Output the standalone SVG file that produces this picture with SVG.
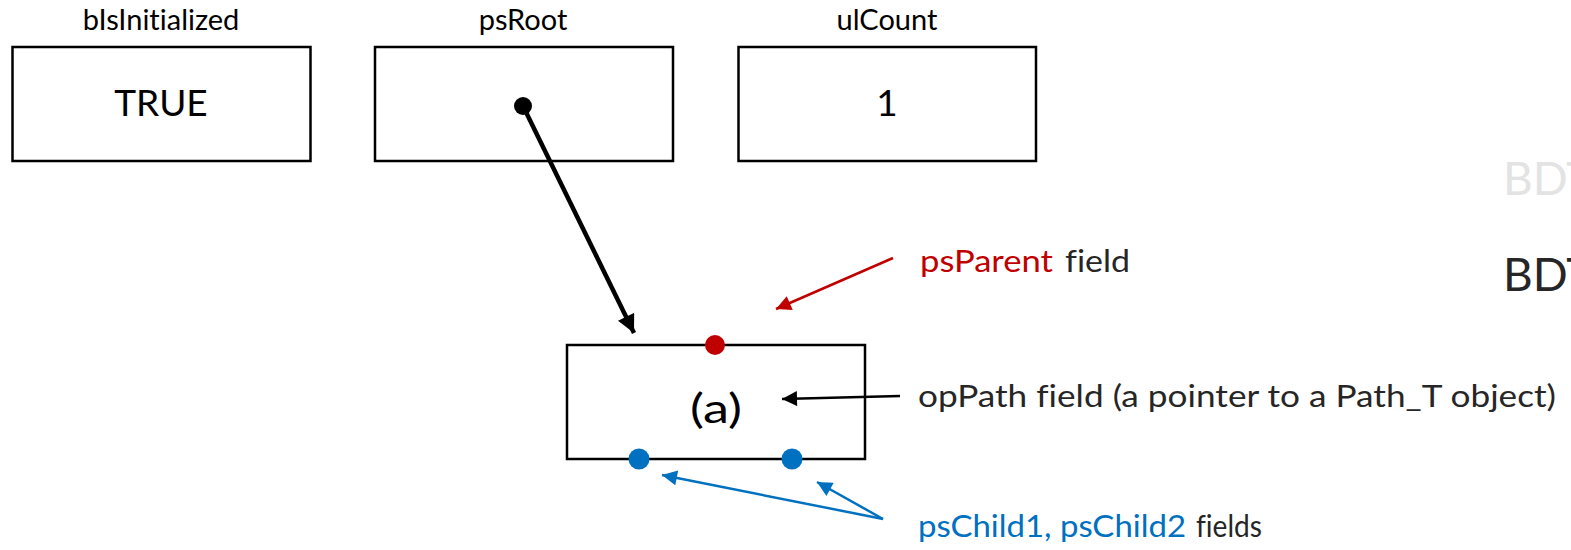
<svg xmlns="http://www.w3.org/2000/svg" width="1571" height="550" viewBox="0 0 1571 550">
  <style>
    text { font-family: Lato, "Open Sans", "Liberation Sans", sans-serif; font-variant-ligatures: none; }
    .box { fill: #fff; stroke: #000; stroke-width: 2.5; }
    .lbl { font-size: 29px; fill: #000; text-anchor: middle; }
    .val { font-size: 37px; fill: #000; text-anchor: middle; }
    .ann { font-size: 31px; fill: #262626; }
    .red { fill: #C00000; }
    .blue { fill: #0070C0; }
    .bdt { font-size: 46px; }
  </style>
  <defs>
    <marker id="ahBlack" viewBox="0 0 10 10" refX="10" refY="5" markerWidth="4.2" markerHeight="4" markerUnits="strokeWidth" orient="auto">
      <path d="M0,0 L10,5 L0,10 Z" fill="#000"/>
    </marker>
    <marker id="ahBlackThin" viewBox="0 0 10 10" refX="10" refY="5" markerWidth="6.5" markerHeight="6" markerUnits="strokeWidth" orient="auto">
      <path d="M0,0 L10,5 L0,10 Z" fill="#000"/>
    </marker>
    <marker id="ahRed" viewBox="0 0 10 10" refX="10" refY="5" markerWidth="6.5" markerHeight="6" markerUnits="strokeWidth" orient="auto">
      <path d="M0,0 L10,5 L0,10 Z" fill="#C00000"/>
    </marker>
    <marker id="ahBlue" viewBox="0 0 10 10" refX="10" refY="5" markerWidth="6.5" markerHeight="6" markerUnits="strokeWidth" orient="auto">
      <path d="M0,0 L10,5 L0,10 Z" fill="#0070C0"/>
    </marker>
  </defs>

  <g id="node-bIsInitialized">
    <text class="lbl" x="161" y="30">bIsInitialized</text>
    <rect class="box" x="12.5" y="47" width="298" height="114"/>
    <text class="val" x="161" y="116">TRUE</text>
  </g>
  <g id="node-psRoot">
    <text class="lbl" x="523" y="30">psRoot</text>
    <rect class="box" x="375" y="47" width="298" height="114"/>
    <circle cx="523" cy="106" r="9" fill="#000"/>
  </g>
  <g id="node-ulCount">
    <text class="lbl" x="887" y="30">ulCount</text>
    <rect class="box" x="738.5" y="47" width="297.5" height="114"/>
    <text class="val" x="887" y="116">1</text>
  </g>
  <g id="node-a">
    <rect class="box" x="567" y="345" width="298" height="114"/>
    <text class="val" x="716" y="423" textLength="52" lengthAdjust="spacingAndGlyphs" style="font-size:41px">(a)</text>
    <circle cx="715" cy="345" r="10" fill="#C00000"/>
    <circle cx="639" cy="459" r="10.5" fill="#0070C0"/>
    <circle cx="792" cy="459" r="10.5" fill="#0070C0"/>
  </g>

  <g id="connectors">
    <line x1="523" y1="106" x2="634" y2="333" stroke="#000" stroke-width="4.5" marker-end="url(#ahBlack)"/>
    <line x1="893" y1="258" x2="776" y2="309" stroke="#C00000" stroke-width="2.5" marker-end="url(#ahRed)"/>
    <line x1="900" y1="396" x2="782" y2="399" stroke="#000" stroke-width="2.5" marker-end="url(#ahBlackThin)"/>
    <line x1="883" y1="519" x2="662" y2="475" stroke="#0070C0" stroke-width="2.5" marker-end="url(#ahBlue)"/>
    <line x1="883" y1="519" x2="817" y2="482" stroke="#0070C0" stroke-width="2.5" marker-end="url(#ahBlue)"/>
  </g>

  <g id="annotations">
    <text class="ann red" x="920" y="272" textLength="133" lengthAdjust="spacingAndGlyphs">psParent</text>
    <text class="ann" x="1065" y="272" textLength="65" lengthAdjust="spacingAndGlyphs">field</text>
    <text class="ann" x="918" y="407" textLength="638" lengthAdjust="spacingAndGlyphs">opPath field (a pointer to a Path_T object)</text>
    <text class="ann blue" x="918" y="537" textLength="268" lengthAdjust="spacingAndGlyphs">psChild1, psChild2</text>
    <text class="ann" x="1196" y="537" textLength="66" lengthAdjust="spacingAndGlyphs">fields</text>
  </g>

  <g id="bdt">
    <text class="bdt" x="1503" y="195" fill="#E3E3E3">BDT</text>
    <text class="bdt" x="1503" y="291" fill="#262626">BDT</text>
  </g>
</svg>
